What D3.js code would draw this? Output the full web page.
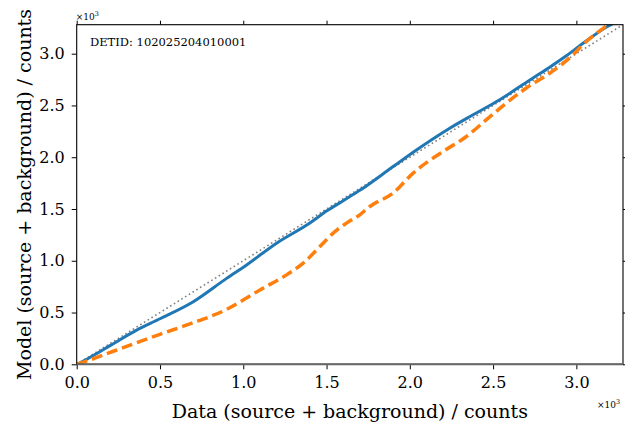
<!DOCTYPE html>
<html>
<head>
<meta charset="utf-8">
<script src="https://cdn.jsdelivr.net/npm/d3@7"></script>
<style>
  body { margin: 0; background: #fff; }
</style>
</head>
<body>
<svg id="chart" width="625" height="423"></svg>
<script>
// data, in counts
const modelX = [0, 20, 100, 200, 360, 500, 700, 900, 1020, 1200, 1400, 1500, 1600, 1700, 1900, 2040, 2240, 2380, 2540, 2740, 2840, 2940, 3040, 3190, 3220];
const modelY = [0, 15, 85, 180, 330, 440, 605, 830, 960, 1170, 1364, 1480, 1580, 1680, 1910, 2070, 2280, 2410, 2556, 2766, 2870, 2980, 3100, 3265, 3290];
const altX = [0, 20, 240, 500, 680, 900, 1100, 1260, 1360, 1460, 1540, 1620, 1700, 1760, 1900, 2020, 2200, 2340, 2460, 2580, 2700, 2830, 2980, 3040, 3140, 3200];
const altY = [0, 10, 138, 290, 390, 530, 718, 864, 977, 1137, 1267, 1364, 1444, 1524, 1654, 1847, 2056, 2200, 2363, 2524, 2669, 2800, 2990, 3088, 3220, 3290];
const tickVals = [0, 500, 1000, 1500, 2000, 2500, 3000];
const axisMax = 3280;
const detid = 'DETID: 102025204010001';

const padL = 76.7, padR = 623, padT = 24.7, padB = 364.3;
const serif = '"DejaVu Serif", serif';

const svg = d3.select('#chart');

const x = d3.scaleLinear().domain([0, axisMax]).range([padL, padR]);
const y = d3.scaleLinear().domain([0, axisMax]).range([padB, padT]);

svg.append('defs').append('clipPath').attr('id', 'clip')
  .append('rect').attr('x', padL).attr('y', padT)
  .attr('width', padR - padL).attr('height', padB - padT);

const plot = svg.append('g').attr('clip-path', 'url(#clip)');

const line = d3.line().x((d) => x(d[0])).y((d) => y(d[1])).curve(d3.curveMonotoneX);

// y = x reference
plot.append('path')
  .attr('d', line([[0, 0], [axisMax, axisMax]]))
  .attr('fill', 'none')
  .attr('stroke', '#808080')
  .attr('stroke-width', 1.6)
  .attr('stroke-dasharray', '1.6,2.8');

plot.append('path')
  .attr('d', line(modelX.map((v, i) => [v, modelY[i]])))
  .attr('fill', 'none')
  .attr('stroke', '#1f77b4')
  .attr('stroke-width', 3);

plot.append('path')
  .attr('d', line(altX.map((v, i) => [v, altY[i]])))
  .attr('fill', 'none')
  .attr('stroke', '#ff7f0e')
  .attr('stroke-width', 3.5)
  .attr('stroke-dasharray', '11,5');

// axes on all four sides
const fmt = (d) => (d / 1000).toFixed(1);
const styleAxis = (g) => {
  g.select('.domain').remove();
  g.selectAll('.tick line').attr('stroke', '#000').attr('stroke-width', 1);
  g.selectAll('.tick text')
    .style('font-family', serif)
    .style('font-size', '16px')
    .attr('fill', '#000');
};

svg.append('g').attr('transform', `translate(0,${padB})`)
  .call(d3.axisBottom(x).tickValues(tickVals).tickFormat(fmt).tickSize(5).tickPadding(7))
  .call(styleAxis);
svg.append('g').attr('transform', `translate(0,${padT})`)
  .call(d3.axisTop(x).tickValues(tickVals).tickFormat('').tickSize(4))
  .call(styleAxis);
svg.append('g').attr('transform', `translate(${padL},0)`)
  .call(d3.axisLeft(y).tickValues(tickVals).tickFormat(fmt).tickSize(5).tickPadding(7))
  .call(styleAxis);
svg.append('g').attr('transform', `translate(${padR},0)`)
  .call(d3.axisRight(y).tickValues(tickVals).tickFormat('').tickSize(4))
  .call(styleAxis);

// frame
svg.append('rect')
  .attr('x', padL).attr('y', padT)
  .attr('width', padR - padL).attr('height', padB - padT)
  .attr('fill', 'none').attr('stroke', '#000').attr('stroke-width', 1.1);

// grey zero line over the bottom spine
svg.append('line')
  .attr('x1', padL).attr('x2', padR)
  .attr('y1', y(0)).attr('y2', y(0))
  .attr('stroke', '#666').attr('stroke-width', 2);

const txt = (sel) => sel.style('font-family', serif).attr('fill', '#000');

// offset labels
svg.append('text').attr('x', padL - 1).attr('y', padT - 5)
  .style('font-size', '9px').call(txt)
  .html('×10<tspan dy="-4" style="font-size:6.5px">3</tspan>');
svg.append('text').attr('x', 597).attr('y', 408)
  .style('font-size', '9px').call(txt)
  .html('×10<tspan dy="-4" style="font-size:6.5px">3</tspan>');

svg.append('text').attr('x', 90).attr('y', 46)
  .style('font-size', '11.5px').call(txt).text(detid);

// axis titles
svg.append('text')
  .attr('x', (padL + padR) / 2).attr('y', 418)
  .attr('text-anchor', 'middle').style('font-size', '19px').call(txt)
  .text('Data (source + background) / counts');

svg.append('text')
  .attr('transform', `translate(31,${(padT + padB) / 2}) rotate(-90)`)
  .attr('text-anchor', 'middle').style('font-size', '19px').call(txt)
  .text('Model (source + background) / counts');
</script>
</body>
</html>
